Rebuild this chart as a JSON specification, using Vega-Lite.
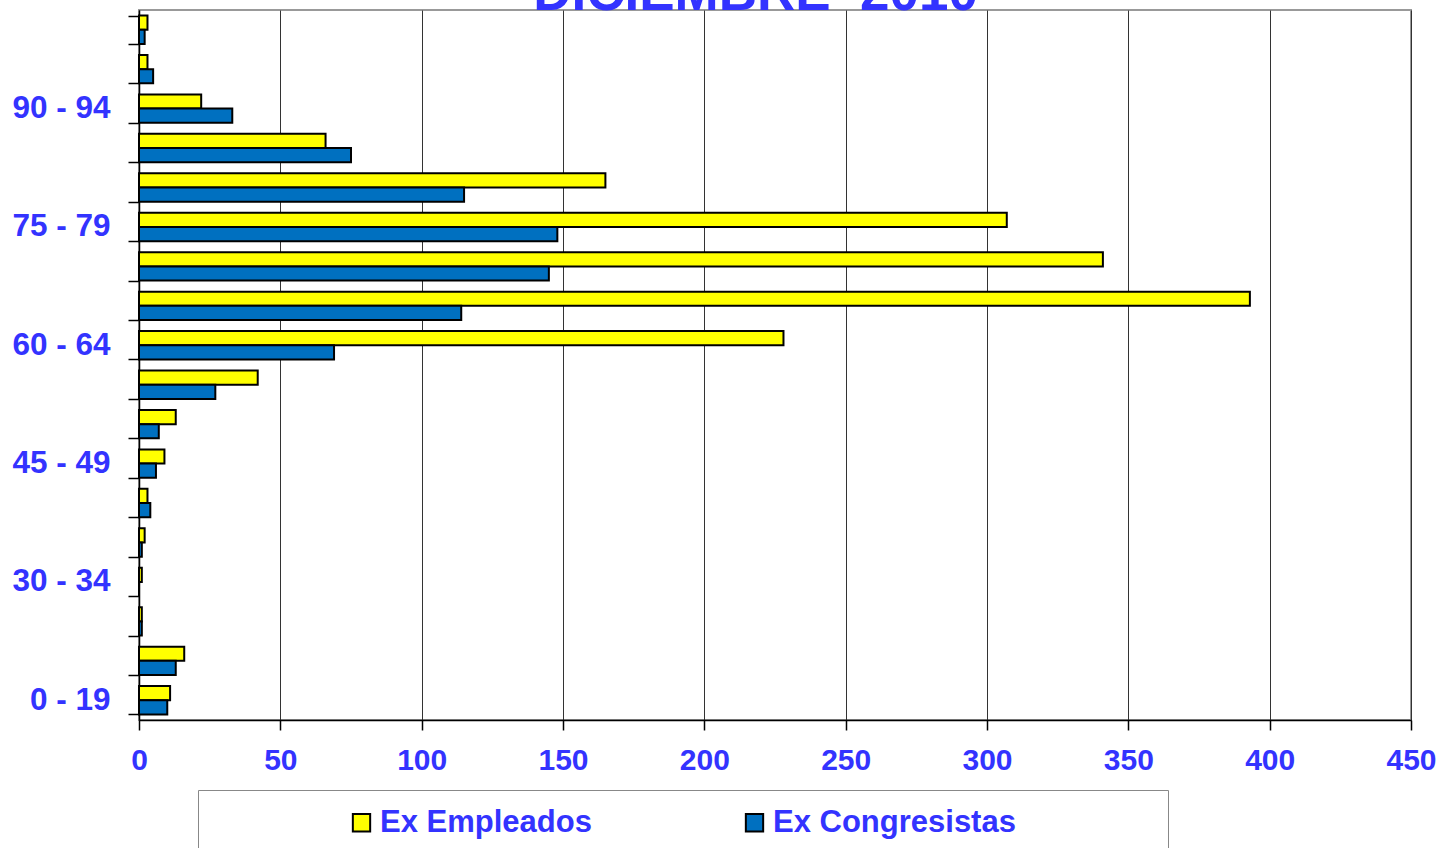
{
  "$schema": "https://vega.github.io/schema/vega-lite/v6.json",
  "width": 1272,
  "height": 710,
  "autosize": {"type": "none"},
  "padding": {"left": 139, "top": 10, "right": 34, "bottom": 128},
  "background": "white",
  "config": {
    "view": {"stroke": "#999999", "strokeWidth": 2}
  },
  "data": {
    "values": [
      {"edad": "0 - 19", "serie": "Ex Empleados", "valor": 11},
      {"edad": "0 - 19", "serie": "Ex Congresistas", "valor": 10},
      {"edad": "20 - 24", "serie": "Ex Empleados", "valor": 16},
      {"edad": "20 - 24", "serie": "Ex Congresistas", "valor": 13},
      {"edad": "25 - 29", "serie": "Ex Empleados", "valor": 1},
      {"edad": "25 - 29", "serie": "Ex Congresistas", "valor": 1},
      {"edad": "30 - 34", "serie": "Ex Empleados", "valor": 1},
      {"edad": "30 - 34", "serie": "Ex Congresistas", "valor": 0},
      {"edad": "35 - 39", "serie": "Ex Empleados", "valor": 2},
      {"edad": "35 - 39", "serie": "Ex Congresistas", "valor": 1},
      {"edad": "40 - 44", "serie": "Ex Empleados", "valor": 3},
      {"edad": "40 - 44", "serie": "Ex Congresistas", "valor": 4},
      {"edad": "45 - 49", "serie": "Ex Empleados", "valor": 9},
      {"edad": "45 - 49", "serie": "Ex Congresistas", "valor": 6},
      {"edad": "50 - 54", "serie": "Ex Empleados", "valor": 13},
      {"edad": "50 - 54", "serie": "Ex Congresistas", "valor": 7},
      {"edad": "55 - 59", "serie": "Ex Empleados", "valor": 42},
      {"edad": "55 - 59", "serie": "Ex Congresistas", "valor": 27},
      {"edad": "60 - 64", "serie": "Ex Empleados", "valor": 228},
      {"edad": "60 - 64", "serie": "Ex Congresistas", "valor": 69},
      {"edad": "65 - 69", "serie": "Ex Empleados", "valor": 393},
      {"edad": "65 - 69", "serie": "Ex Congresistas", "valor": 114},
      {"edad": "70 - 74", "serie": "Ex Empleados", "valor": 341},
      {"edad": "70 - 74", "serie": "Ex Congresistas", "valor": 145},
      {"edad": "75 - 79", "serie": "Ex Empleados", "valor": 307},
      {"edad": "75 - 79", "serie": "Ex Congresistas", "valor": 148},
      {"edad": "80 - 84", "serie": "Ex Empleados", "valor": 165},
      {"edad": "80 - 84", "serie": "Ex Congresistas", "valor": 115},
      {"edad": "85 - 89", "serie": "Ex Empleados", "valor": 66},
      {"edad": "85 - 89", "serie": "Ex Congresistas", "valor": 75},
      {"edad": "90 - 94", "serie": "Ex Empleados", "valor": 22},
      {"edad": "90 - 94", "serie": "Ex Congresistas", "valor": 33},
      {"edad": "95 - 99", "serie": "Ex Empleados", "valor": 3},
      {"edad": "95 - 99", "serie": "Ex Congresistas", "valor": 5},
      {"edad": "100 - 104", "serie": "Ex Empleados", "valor": 3},
      {"edad": "100 - 104", "serie": "Ex Congresistas", "valor": 2}
    ]
  },
  "encoding": {
    "y": {
      "field": "edad",
      "type": "nominal",
      "sort": ["100 - 104", "95 - 99", "90 - 94", "85 - 89", "80 - 84", "75 - 79", "70 - 74", "65 - 69", "60 - 64", "55 - 59", "50 - 54", "45 - 49", "40 - 44", "35 - 39", "30 - 34", "25 - 29", "20 - 24", "0 - 19"],
      "scale": {"paddingInner": 0.28, "paddingOuter": 0.14},
      "axis": {
        "title": null,
        "labelExpr": "indexof(['0 - 19','30 - 34','45 - 49','60 - 64','75 - 79','90 - 94'], datum.value) >= 0 ? datum.value : ''",
        "tickBand": "extent",
        "tickSize": 11,
        "tickColor": "black",
        "tickWidth": 1.5,
        "labelPadding": 18,
        "labelFontSize": 31.5,
        "labelFont": "Liberation Sans",
        "labelFontWeight": "bold",
        "labelColor": "#3333FF",
        "domainColor": "black",
        "domainWidth": 1.5,
        "grid": false
      }
    },
    "yOffset": {"field": "serie", "sort": ["Ex Empleados", "Ex Congresistas"]}
  },
  "layer": [
    {
      "mark": {"type": "bar", "stroke": "black", "strokeWidth": 2},
      "encoding": {
        "x": {
          "field": "valor",
          "type": "quantitative",
          "scale": {"domain": [0, 450], "nice": false},
          "axis": {
            "orient": "bottom",
            "title": null,
            "values": [0, 50, 100, 150, 200, 250, 300, 350, 400, 450],
            "grid": true,
            "gridColor": "#333333",
            "gridWidth": 1,
            "tickSize": 10,
            "tickColor": "black",
            "tickWidth": 1.5,
            "labelPadding": 15,
            "labelFontSize": 30,
            "labelFont": "Liberation Sans",
            "labelFontWeight": "bold",
            "labelColor": "#3333FF",
            "labelFlush": false,
            "domainColor": "black",
            "domainWidth": 1.5
          }
        },
        "color": {
          "field": "serie",
          "type": "nominal",
          "scale": {"domain": ["Ex Empleados", "Ex Congresistas"], "range": ["#FFFF00", "#0070C0"]},
          "legend": {
            "orient": "none",
            "legendX": 59,
            "legendY": 780,
            "direction": "horizontal",
            "title": " ",
            "titleOrient": "left",
            "titleFontSize": 1,
            "titlePadding": 131,
            "padding": 17,
            "strokeColor": "#888888",
            "fillColor": "white",
            "symbolType": "square",
            "symbolSize": 300,
            "symbolStrokeColor": "black",
            "symbolStrokeWidth": 2,
            "symbolOpacity": 1,
            "labelFontSize": 31,
            "labelFont": "Liberation Sans",
            "labelFontWeight": "bold",
            "labelColor": "#3333FF",
            "labelOffset": 3,
            "columnPadding": 147,
            "labelLimit": 2000,
            "labelExpr": "datum.label == 'Ex Congresistas' ? datum.label + '\u00a0\u00a0\u00a0\u00a0\u00a0\u00a0\u00a0\u00a0\u00a0\u00a0\u00a0\u00a0\u00a0\u2800' : datum.label"
          }
        }
      }
    },
    {
      "mark": {"type": "bar", "opacity": 0},
      "encoding": {
        "x": {
          "field": "valor",
          "type": "quantitative",
          "scale": {"domain": [0, 450], "nice": false},
          "axis": {
            "orient": "top",
            "title": "DICIEMBRE \u00a02010",
            "titleFontSize": 53,
            "titleFont": "Liberation Sans",
            "titleFontWeight": "bold",
            "titleColor": "#3333FF",
            "titleBaseline": "alphabetic",
            "titlePadding": 0.5,
            "titleX": 616,
            "titleAnchor": "middle",
            "labels": false,
            "ticks": false,
            "domain": false,
            "grid": false
          }
        }
      }
    }
  ],
  "resolve": {"axis": {"x": "independent"}}
}
